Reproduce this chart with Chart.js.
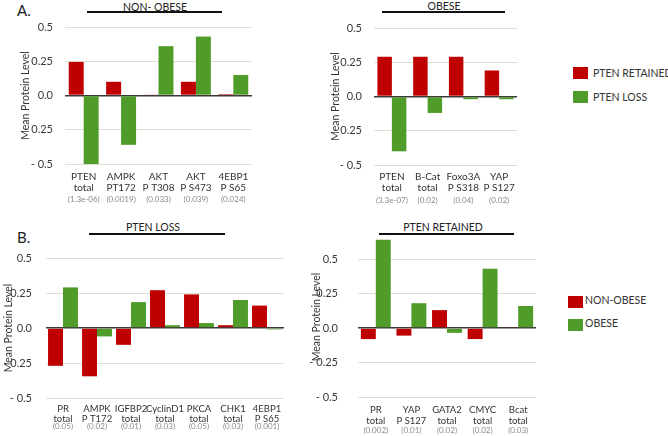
<!DOCTYPE html>
<html>
<head>
<meta charset="utf-8">
<script src="https://cdn.jsdelivr.net/npm/chart.js@4.4.0/dist/chart.umd.min.js"></script>
<style>
body { margin: 0; width: 668px; height: 436px; background: #fff; position: relative; overflow: hidden; font-family: Lato, sans-serif; color: #333; }
canvas { position: absolute; }
.ttl { position: absolute; width: 200px; text-align: center; font-size: 10.5px; line-height: 12px; color: #222; }
.ln { position: absolute; height: 2px; background: #111; }
.lab { position: absolute; font-size: 15px; line-height: 18px; color: #222; }
.box { position: absolute; width: 15px; height: 12px; }
.lg { position: absolute; font-size: 10.5px; line-height: 12px; color: #333; white-space: nowrap; }
</style>
</head>
<body>
<div class="lab" style="left:17px;top:1px">A.</div>
<div class="lab" style="left:17px;top:228px">B.</div>

<div class="ttl" style="left:55px;top:1px">NON- OBESE</div>
<div class="ln" style="left:87px;top:11px;width:135px"></div>
<div class="ttl" style="left:344px;top:0px">OBESE</div>
<div class="ln" style="left:382px;top:11px;width:123px"></div>
<div class="ttl" style="left:53px;top:221px">PTEN LOSS</div>
<div class="ln" style="left:89px;top:233px;width:136px"></div>
<div class="ttl" style="left:343px;top:221px">PTEN RETAINED</div>
<div class="ln" style="left:379px;top:233px;width:135px"></div>

<div class="box" style="left:573px;top:67px;background:#bf0000"></div>
<div class="lg" style="left:593px;top:67px">PTEN RETAINED</div>
<div class="box" style="left:573px;top:91px;background:#4f9c2a"></div>
<div class="lg" style="left:593px;top:91px">PTEN LOSS</div>
<div class="box" style="left:568px;top:296px;background:#bf0000"></div>
<div class="lg" style="left:585px;top:294px">NON-OBESE</div>
<div class="box" style="left:568px;top:319px;background:#4f9c2a"></div>
<div class="lg" style="left:585px;top:317px">OBESE</div>

<canvas id="aLeft"></canvas>
<canvas id="aRight"></canvas>
<canvas id="bLeft"></canvas>
<canvas id="bRight"></canvas>

<script>
// panel A: PTEN status within BMI group
const aLeftCats = [['PTEN', 'total'], ['AMPK', 'PT172'], ['AKT', 'P T308'], ['AKT', 'P S473'], ['4EBP1', 'P S65']];
const aLeftP = ['(1.3e-06)', '(0.0019)', '(0.033)', '(0.039)', '(0.024)'];
const aLeftRetained = [0.245, 0.10, 0.005, 0.10, 0.01];
const aLeftLoss = [-0.5, -0.36, 0.36, 0.43, 0.15];

const aRightCats = [['PTEN', 'total'], ['B-Cat', 'total'], ['Foxo3A', 'P S318'], ['YAP', 'P S127']];
const aRightP = ['(3.3e-07)', '(0.02)', '(0.04)', '(0.02)'];
const aRightRetained = [0.29, 0.29, 0.29, 0.19];
const aRightLoss = [-0.40, -0.12, -0.02, -0.02];

// panel B: BMI group within PTEN status
const bLeftCats = [['PR', 'total'], ['AMPK', 'P T172'], ['IGFBP2', 'total'], ['CyclinD1', 'total'], ['PKCA', 'total'], ['CHK1', 'total'], ['4EBP1', 'P S65']];
const bLeftP = ['(0.05)', '(0.02)', '(0.01)', '(0.03)', '(0.05)', '(0.03)', '(0.001)'];
const bLeftNonObese = [-0.27, -0.345, -0.12, 0.27, 0.24, 0.02, 0.16];
const bLeftObese = [0.29, -0.06, 0.185, 0.02, 0.035, 0.20, -0.01];

const bRightCats = [['PR', 'total'], ['YAP', 'P S127'], ['GATA2', 'total'], ['CMYC', 'total'], ['Bcat', 'total']];
const bRightP = ['(0.002)', '(0.01)', '(0.02)', '(0.02)', '(0.03)'];
const bRightNonObese = [-0.08, -0.055, 0.13, -0.08, 0.005];
const bRightObese = [0.64, 0.18, -0.035, 0.43, 0.16];

const yTicks = [-0.5, -0.25, 0, 0.25, 0.5];

const RED = '#bf0000';
const GREEN = '#4f9c2a';
const FONT = 'Lato, sans-serif';

function yLabel(v) {
    if (v === 0) return '0.0';
    return v < 0 ? '- ' + Math.abs(v) : String(v);
}

// fixed box sizes so the plot areas land where the original ones are
function fixSize(prop, size) {
    return s => {
        s[prop] = size;
        s.paddingTop = 0;
        s.paddingBottom = 0;
        s.paddingLeft = 0;
        s.paddingRight = 0;
    };
}

function drawPanel(id, p) {
    const canvas = document.getElementById(id);
    canvas.width = p.w;
    canvas.height = p.h;
    canvas.style.left = p.left + 'px';
    canvas.style.top = p.top + 'px';

    new Chart(canvas, {
        type: 'bar',
        data: {
            labels: p.cats,
            datasets: [
                { data: p.first, backgroundColor: RED },
                { data: p.second, backgroundColor: GREEN }
            ]
        },
        options: {
            responsive: false,
            animation: false,
            devicePixelRatio: 1,
            layout: { padding: { top: p.padTop, right: p.padRight, left: 0, bottom: 0 } },
            plugins: { legend: { display: false }, tooltip: { enabled: false } },
            datasets: { bar: { categoryPercentage: p.catPct, barPercentage: 1 } },
            scales: {
                y: {
                    min: -0.5,
                    max: p.max,
                    afterBuildTicks: s => { s.ticks = yTicks.map(v => ({ value: v })); },
                    afterFit: fixSize('width', p.yw),
                    border: { display: false },
                    grid: {
                        drawTicks: false,
                        color: c => c.tick.value === 0 ? '#3a3a3a' : '#e2decf',
                        lineWidth: c => c.tick.value === 0 ? 1.6 : 1
                    },
                    ticks: {
                        padding: p.yPad,
                        color: '#3a3a3a',
                        font: { family: FONT, size: 11 },
                        callback: yLabel
                    },
                    title: {
                        display: true,
                        text: 'Mean Protein Level',
                        color: '#333',
                        padding: 0,
                        font: { family: FONT, size: 10.5, lineHeight: 1.2 }
                    }
                },
                x: {
                    weight: 0,
                    afterFit: fixSize('height', p.xh),
                    border: { display: false },
                    grid: { display: false, drawTicks: false },
                    ticks: {
                        padding: p.xPad,
                        maxRotation: 0,
                        autoSkip: false,
                        color: '#333',
                        font: { family: FONT, size: p.xFont, lineHeight: p.xLine }
                    }
                },
                x2: {
                    type: 'category',
                    position: 'bottom',
                    weight: 1,
                    labels: p.pvals,
                    offset: true,
                    afterFit: fixSize('height', p.ph),
                    border: { display: false },
                    grid: { display: false, drawTicks: false },
                    ticks: {
                        padding: p.pPad,
                        maxRotation: 0,
                        autoSkip: false,
                        color: '#8a8a8a',
                        font: { family: FONT, size: 8, lineHeight: 1.1 }
                    }
                }
            }
        }
    });
}

drawPanel('aLeft', {
    cats: aLeftCats, pvals: aLeftP, first: aLeftRetained, second: aLeftLoss,
    left: 19, top: 20, w: 243, h: 188, padTop: 7, padRight: 10, yw: 46, yPad: 12,
    xh: 30, xPad: 7, xFont: 10, xLine: 1.15, ph: 14, pPad: 1, max: 0.5, catPct: 0.8
});

drawPanel('aRight', {
    cats: aRightCats, pvals: aRightP, first: aRightRetained, second: aRightLoss,
    left: 329, top: 20, w: 196, h: 189, padTop: 8, padRight: 8, yw: 45, yPad: 12,
    xh: 30, xPad: 6, xFont: 10, xLine: 1.15, ph: 14, pPad: 1, max: 0.5, catPct: 0.81
});

drawPanel('bLeft', {
    cats: bLeftCats, pvals: bLeftP, first: bLeftNonObese, second: bLeftObese,
    left: 2, top: 245, w: 290, h: 187, padTop: 13, padRight: 8, yw: 44, yPad: 14,
    xh: 24, xPad: 6, xFont: 9.5, xLine: 1.02, ph: 10, pPad: 0, max: 0.5, catPct: 0.88
});

drawPanel('bRight', {
    cats: bRightCats, pvals: bRightP, first: bRightNonObese, second: bRightObese,
    left: 310, top: 230, w: 235, h: 206, padTop: 7, padRight: 9, yw: 48, yPad: 20,
    xh: 29, xPad: 8, xFont: 9.5, xLine: 1.1, ph: 10, pPad: 0, max: 0.66, catPct: 0.84
});
</script>
</body>
</html>
